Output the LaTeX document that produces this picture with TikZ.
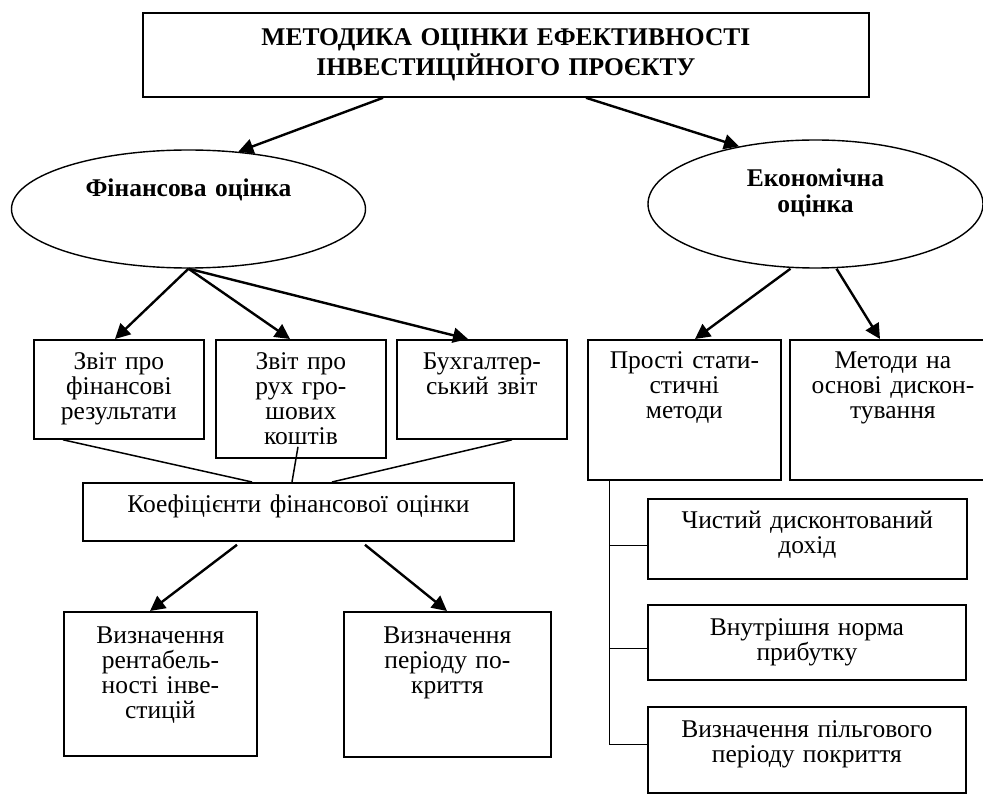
\documentclass[tikz,border=0pt]{standalone}
\usepackage{fontspec}
\setmainfont{Liberation Serif}
\usetikzlibrary{arrows.meta,calc,shapes.geometric}
\begin{document}
\begin{tikzpicture}[x=1pt,y=-1pt,
  frame/.style={draw, line width=1.8pt, inner sep=0pt, anchor=north west},
  txt/.style={anchor=base, align=center, inner sep=0pt, font=\fontsize{25.5}{25}\selectfont},
  ttl/.style={anchor=base, align=center, inner sep=0pt, font=\bfseries\fontsize{25.5}{30}\selectfont},
  arr/.style={line width=2.4pt, -{Triangle[length=15pt,width=15pt]}},
  link/.style={line width=1.5pt},
  tree/.style={line width=1pt},
  ell/.style={draw, ellipse, line width=1.4pt, inner sep=0pt}]
\useasboundingbox (0,0) rectangle (983,794);
\clip (0,0) rectangle (983,794);

% title
\node[frame, minimum width=726pt, minimum height=84pt] (title) at (142,12) {};
\node[ttl, text width=700pt] (ttxt) at ($(title.north)+(0,34)$) {МЕТОДИКА ОЦІНКИ ЕФЕКТИВНОСТІ\\ІНВЕСТИЦІЙНОГО ПРОЄКТУ};

% ellipses
\node[ell, minimum width=354pt, minimum height=118pt] (fin) at (188.5,209) {};
\node[ttl, text width=300pt] (fint) at ($(fin.center)+(0,-12)$) {Фінансова оцінка};
\node[ell, minimum width=335pt, minimum height=128pt] (eco) at (815.5,204) {};
\node[ttl, font=\bfseries\fontsize{25.5}{26}\selectfont, text width=300pt] (ecot) at ($(eco.center)+(0,-17)$) {Економічна\\оцінка};

% boxes
\node[frame, minimum width=170pt, minimum height=99pt] (b1) at (33,339) {};
\node[frame, minimum width=170pt, minimum height=118pt] (b2) at (215,339) {};
\node[frame, minimum width=170pt, minimum height=99pt] (b3) at (396,339) {};
\node[frame, minimum width=431pt, minimum height=58pt] (k) at (82,482) {};
\node[frame, minimum width=193pt, minimum height=144pt] (v1) at (63,611) {};
\node[frame, minimum width=207pt, minimum height=145pt] (v2) at (343,611) {};
\node[frame, minimum width=193pt, minimum height=140pt] (ps) at (587,339) {};
\node[frame, minimum width=206pt, minimum height=140pt] (md) at (789,339) {};
\node[frame, minimum width=319pt, minimum height=80pt] (c1) at (647,498) {};
\node[frame, minimum width=318pt, minimum height=75pt] (c2) at (647,604) {};
\node[frame, minimum width=318pt, minimum height=86pt] (c3) at (647,706) {};

% texts
\node[txt, text width=170pt] (b1t) at ($(b1.north)+(0,31)$) {Звіт про\\фінансові\\результати};
\node[txt, text width=170pt] (b2t) at ($(b2.north)+(0,31)$) {Звіт про\\рух гро-\\шових\\коштів};
\node[txt, text width=170pt] (b3t) at ($(b3.north)+(0,31)$) {Бухгалтер-\\ський звіт};
\node[txt, text width=431pt] (kt) at ($(k.north)+(0,30)$) {Коефіцієнти фінансової оцінки};
\node[txt, text width=193pt] (v1t) at ($(v1.north)+(0,32)$) {Визначення\\рентабель-\\ності інве-\\стицій};
\node[txt, text width=207pt] (v2t) at ($(v2.north)+(0,32)$) {Визначення\\періоду по-\\криття};
\node[txt, text width=193pt] (pst) at ($(ps.north)+(0,30)$) {Прості стати-\\стичні\\методи};
\node[txt, text width=206pt] (mdt) at ($(md.north)+(0,30)$) {Методи на\\основі дискон-\\тування};
\node[txt, text width=319pt] (c1t) at ($(c1.north)+(0,30)$) {Чистий дисконтований\\дохід};
\node[txt, text width=318pt] (c2t) at ($(c2.north)+(0,31)$) {Внутрішня норма\\прибутку};
\node[txt, text width=318pt] (c3t) at ($(c3.north)+(0,31)$) {Визначення пільгового\\періоду покриття};

% arrows
\draw[arr] ($(title.south west)+(241,0)$) -- (fin.49);
\draw[arr] ($(title.south west)+(444,0)$) -- (eco.143);
\draw[arr] (fin.south) -- ($(b1.north west)+(82,0)$);
\draw[arr] (fin.south) -- ($(b2.north west)+(75,0)$);
\draw[arr] (fin.south) -- ($(b3.north west)+(72,0)$);
\draw[arr] ($(eco.south)+(-25,0)$) -- ($(ps.north west)+(108,0)$);
\draw[arr] ($(eco.south)+(21,0)$) -- ($(md.north west)+(91,0)$);

% links to coefficients
\draw[link] ($(b1.south west)+(30,0)$) -- ($(k.north west)+(170,0)$);
\draw[link] ($(b2.south west)+(83,-12)$) -- ($(k.north west)+(210,0)$);
\draw[link] ($(b3.south west)+(116,0)$) -- ($(k.north west)+(250,0)$);

\draw[arr] ($(k.south west)+(155,3)$) -- ($(v1.north west)+(87,0)$);
\draw[arr] ($(k.south west)+(283,3)$) -- ($(v2.north west)+(104,0)$);

% tree
\coordinate (tr) at ($(ps.south west)+(22,0)$);
\coordinate (p1) at ($(c1.north west)+(0,47)$);
\coordinate (p2) at ($(c2.north west)+(0,44)$);
\coordinate (p3) at ($(c3.north west)+(0,38)$);
\draw[tree] (tr) -- (tr |- p3) -- (p3);
\draw[tree] (tr |- p1) -- (p1);
\draw[tree] (tr |- p2) -- (p2);
\end{tikzpicture}
\end{document}
